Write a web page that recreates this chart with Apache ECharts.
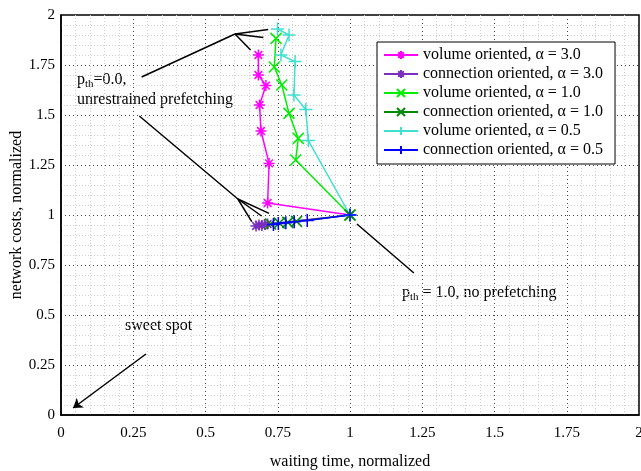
<!DOCTYPE html>
<html><head><meta charset="utf-8">
<script src="https://cdn.jsdelivr.net/npm/echarts@6/dist/echarts.min.js"></script>
<style>html,body{margin:0;padding:0;background:#fff}#c{width:641px;height:471px}</style>
</head><body><div id="c"></div>
<script>
const seriesNames = ["volume oriented, \u03b1 = 3.0","connection oriented, \u03b1 = 3.0","volume oriented, \u03b1 = 1.0","connection oriented, \u03b1 = 1.0","volume oriented, \u03b1 = 0.5","connection oriented, \u03b1 = 0.5"];
const volume30 = [[0.683,1.80],[0.683,1.70],[0.709,1.647],[0.687,1.55],[0.692,1.42],[0.720,1.258],[0.715,1.06],[1.0,1.0]];
const connection30 = [[0.675,0.945],[0.685,0.95],[0.695,0.948],[0.705,0.952],[0.715,0.955],[1.0,1.0]];
const volume10 = [[0.744,1.883],[0.738,1.74],[0.764,1.65],[0.789,1.508],[0.821,1.383],[0.812,1.275],[1.0,1.0]];
const connection10 = [[0.725,0.955],[0.755,0.96],[0.785,0.963],[0.815,0.968],[1.0,1.0]];
const volume05 = [[0.749,1.93],[0.789,1.90],[0.761,1.80],[0.810,1.767],[0.806,1.60],[0.847,1.528],[0.856,1.372],[1.0,1.0]];
const connection05 = [[0.735,0.953],[0.752,0.957],[0.778,0.961],[0.807,0.966],[0.852,0.973],[1.0,1.0]];
const xTicks = [0,0.25,0.5,0.75,1,1.25,1.5,1.75,2];
const yTicks = [0,0.25,0.5,0.75,1,1.25,1.5,1.75,2];
// annotation segments in data coordinates
const annTop = [[[0.279,1.69],[0.602,1.905]],[[0.602,1.905],[0.717,1.928]],[[0.602,1.905],[0.700,1.888]],[[0.602,1.905],[0.656,1.825]]];
const annBottom = [[[0.271,1.495],[0.612,1.08]],[[0.612,1.08],[0.660,0.967]],[[0.612,1.08],[0.694,0.995]],[[0.612,1.08],[0.720,1.008]]];
const annNoPrefetch = [[[1.024,0.955],[1.221,0.71]]];
const annSweet = [[[0.294,0.305],[0.042,0.035]]];

const FONT = 'Liberation Serif';
const SYM_STAR = 'path://M0,5L10,5M5,0L5,10M1.5,1.5L8.5,8.5M8.5,1.5L1.5,8.5';
const SYM_X = 'path://M0,0L10,10M10,0L0,10';
const SYM_PLUS = 'path://M0,5L10,5M5,0L5,10';
const colors = ['#ff00ff','#7a2fbe','#00ee00','#008a00','#40e0d0','#0000ff'];
const symbols = [SYM_STAR,SYM_STAR,SYM_X,SYM_X,SYM_PLUS,SYM_PLUS];
const datas = [volume30,connection30,volume10,connection10,volume05,connection05];

function mkSeries(i){
  return {
    name: seriesNames[i], type:'line', data: datas[i],
    symbol: symbols[i], symbolSize: i>=4?13:11,
    lineStyle:{color:colors[i], width:1.5},
    itemStyle:{color:colors[i], borderColor:colors[i], borderWidth:1.5},
    emphasis:{disabled:true}, animation:false
  };
}
function segs(arr, arrow){
  return arr.map(s => [{coord:s[0], symbol:'none'},{coord:s[1], symbol: arrow?'arrow':'none'}]);
}
const series = [0,1,2,3,4,5].map(mkSeries);
series.push({
  type:'line', data:[], silent:true,
  markLine:{silent:true, symbol:['none','none'], symbolSize:9, animation:false,
    lineStyle:{color:'#000', width:1.5, type:'solid'}, label:{show:false},
    data: segs(annTop,false).concat(segs(annBottom,false), segs(annNoPrefetch,false), segs(annSweet,true))}
});

const chart = echarts.init(document.getElementById('c'), null, {renderer:'canvas'});
const axisCommon = {
  min:0, max:2, interval:0.25,
  axisLine:{show:true, onZero:false, lineStyle:{color:'#000', width:1.5}},
  axisTick:{show:false},
  axisLabel:{color:'#000', fontFamily:FONT, fontSize:15},
  splitLine:{show:true, lineStyle:{color:'#444', type:[1,3], width:1}},
  minorTick:{show:false, splitNumber:5},
  minorSplitLine:{show:true, lineStyle:{color:'#cfcfcf', type:[1,2], width:1}},
  nameLocation:'middle', nameMoveOverlap:false, nameTextStyle:{color:'#000', fontFamily:FONT, fontSize:16}
};
chart.setOption({
  backgroundColor:'#fff',
  grid:{left:61, right:2, top:15, bottom:56, show:true, borderColor:'#000', borderWidth:1.5, backgroundColor:'transparent', containLabel:false, outerBoundsMode:'none'},
  xAxis:Object.assign({}, axisCommon, {type:'value', name:'waiting time, normalized', nameGap:39,
    axisLabel:Object.assign({}, axisCommon.axisLabel, {margin:11, formatter:v=>xTicks.includes(v)?String(v):''})}),
  yAxis:Object.assign({}, axisCommon, {type:'value', name:'network costs, normalized', nameGap:36,
    axisLabel:Object.assign({}, axisCommon.axisLabel, {margin:6, formatter:v=>yTicks.includes(v)?String(v):''})}),
  legend:{
    orient:'vertical', left:377, top:42, data:seriesNames,
    itemWidth:34, itemHeight:10, itemGap:3,
    padding:[5,12,6,6], borderColor:'#000', borderWidth:1, backgroundColor:'#fff',
    textStyle:{color:'#000', fontFamily:FONT, fontSize:16, lineHeight:16}, selectedMode:false
  },
  graphic:[
    {type:'text', left:77, top:72, style:{text:'{p|p}{s|th}{p|=0.0,}', rich:{p:{fontFamily:FONT,fontSize:16,fill:'#000'}, s:{fontFamily:FONT,fontSize:11,fill:'#000',verticalAlign:'bottom', padding:[9,0,0,0]}}}},
    {type:'text', left:77, top:92, style:{text:'unrestrained prefetching', font:'16px '+FONT, fill:'#000'}},
    {type:'text', left:402, top:285, style:{text:'{p|p}{s|th}{p| = 1.0, no prefetching}', rich:{p:{fontFamily:FONT,fontSize:16,fill:'#000'}, s:{fontFamily:FONT,fontSize:11,fill:'#000',verticalAlign:'bottom', padding:[9,0,0,0]}}}},
    {type:'text', left:125, top:318, style:{text:'sweet spot', font:'16px '+FONT, fill:'#000'}}
  ],
  series: series
});
</script></body></html>
